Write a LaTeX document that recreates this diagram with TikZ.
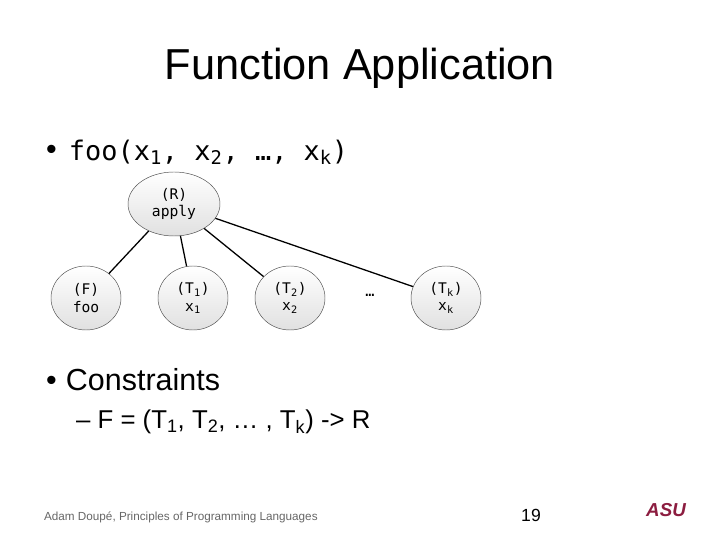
\documentclass[tikz,border=0pt]{standalone}
\usepackage{fontspec}
\setmainfont{Liberation Sans}
\setmonofont{DejaVu Sans Mono}
\usetikzlibrary{shapes.geometric}

\begin{document}
\begin{tikzpicture}[x=0.03cm,y=-0.03cm,
  tnode/.style={ellipse, draw=black!70, top color=white, bottom color=black!12,
    minimum width=70*0.03cm, minimum height=64*0.03cm, inner sep=0pt,
    font=\fontsize{12.5}{15}\selectfont\ttfamily, align=center}]

\useasboundingbox (0,0) rectangle (720,540);

\node (title) at (360,68) {\fontsize{37}{44}\selectfont Function Application};
\node[anchor=west] (call) at (42,152) {\fontsize{23}{28}\selectfont \raisebox{0.02em}{\fontsize{26}{26}\selectfont•}\hspace{0.45em}\ttfamily foo(x\textsubscript{1}, x\textsubscript{2}, …, x\textsubscript{k})};

\node[tnode, minimum width=92*0.03cm] (R) at (174,204) {(R)\\apply};
\node[tnode] (F) at (86,298) {(F)\\foo};
\node[tnode] (T1) at (193,298) {(T\textsubscript{1})\\x\textsubscript{1}};
\node[tnode] (T2) at (290,298) {(T\textsubscript{2})\\x\textsubscript{2}};
\node (dots) at (370,295) {\fontsize{13}{15}\selectfont\ttfamily …};
\node[tnode] (Tk) at (446,298) {(T\textsubscript{k})\\x\textsubscript{k}};

% edges from the root
\foreach \c in {F,T1,T2,Tk}{
  \draw[line width=1.1pt] (R) -- (\c);
}

\node[anchor=west] (cons) at (42,380) {\fontsize{26}{30}\selectfont \raisebox{0.02em}{\fontsize{26}{26}\selectfont•}\hspace{0.3em}Constraints};
\node[anchor=west] (eq) at (72,422) {\fontsize{22}{26}\selectfont – F = (T\textsubscript{1}, T\textsubscript{2}, … , T\textsubscript{k}) -> R};

\node[anchor=west] (foot) at (40,517) {\color{black!60}\fontsize{10}{12}\selectfont Adam Doupé, Principles of Programming Languages};
\node (page) at (531,515) {\fontsize{15}{18}\selectfont 19};
\node (logo) at (666,510) {\color[RGB]{140,29,64}\fontsize{16}{18}\selectfont\bfseries\itshape ASU};
\end{tikzpicture}
\end{document}
